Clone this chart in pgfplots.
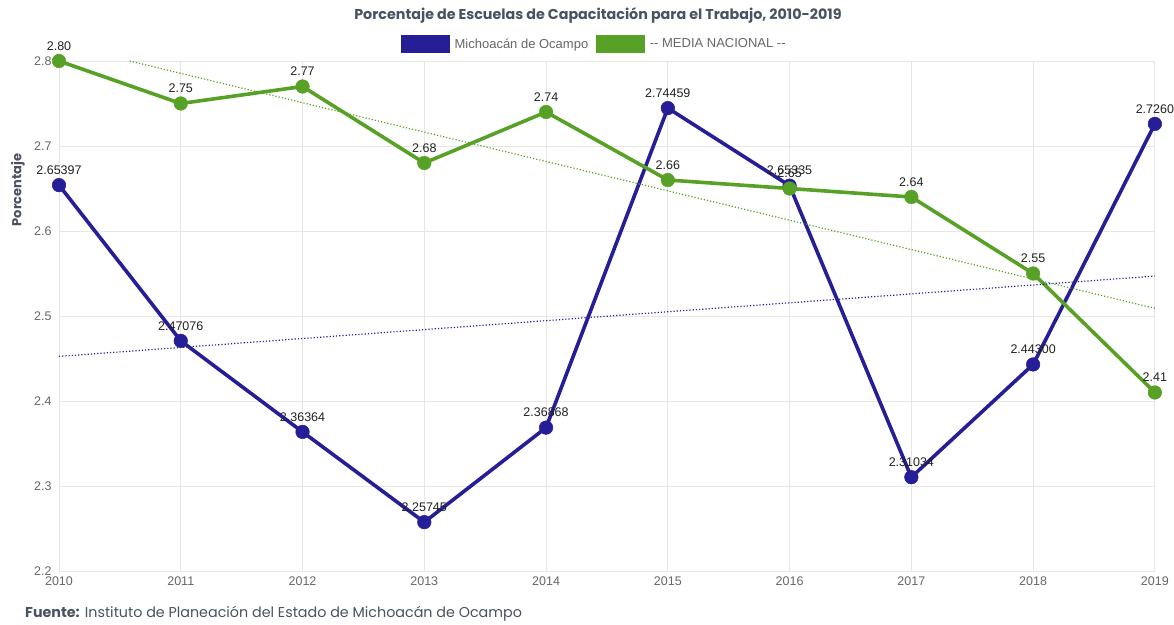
\documentclass[border=0pt]{standalone}
\usepackage{fontspec}
\setmainfont{Liberation Sans}
\newfontfamily\poppins{Poppins}
\usepackage{pgfplots}
\pgfplotsset{compat=1.18}
\usepackage{pgfplotstable}
\definecolor{cblue}{HTML}{261E96}
\definecolor{cgreen}{HTML}{57A127}
\definecolor{gridc}{HTML}{E6E6E6}
\definecolor{tickc}{HTML}{666666}
\definecolor{titlec}{HTML}{4A5160}
\definecolor{labc}{HTML}{222222}

\pgfplotstableread{
x y lab
2010 2.65397 2.65397
2011 2.47076 2.47076
2012 2.36364 2.36364
2013 2.25745 2.25745
2014 2.36868 2.36868
2015 2.74459 2.74459
2016 2.65335 2.65335
2017 2.31034 2.31034
2018 2.44300 2.44300
2019 2.7260 2.7260
}\mich

\pgfplotstableread{
x y lab
2010 2.80 2.80
2011 2.75 2.75
2012 2.77 2.77
2013 2.68 2.68
2014 2.74 2.74
2015 2.66 2.66
2016 2.65 2.65
2017 2.64 2.64
2018 2.55 2.55
2019 2.41 2.41
}\media

\begin{document}
\begin{tikzpicture}
\useasboundingbox (-59bp,-54bp) rectangle (1115bp,571bp);
\begin{axis}[
  at={(0,0)}, anchor=south west,
  scale only axis, width=1096bp, height=510bp,
  xmin=2010, xmax=2019, ymin=2.2, ymax=2.8,
  xtick={2010,2011,2012,2013,2014,2015,2016,2017,2018,2019},
  ytick={2.2,2.3,2.4,2.5,2.6,2.7,2.8},
  xticklabels={2010,2011,2012,2013,2014,2015,2016,2017,2018,2019},
  yticklabels={2.2,2.3,2.4,2.5,2.6,2.7,2.8},
  grid=major,
  major grid style={color=gridc, line width=0.8bp},
  axis line style={draw=none},
  tick style={draw=none},
  tick label style={font=\fontsize{12.5bp}{14bp}\selectfont, text=tickc},
  yticklabel style={xshift=-4bp},
  xticklabel style={yshift=-2bp},
  clip=false,
  legend columns=2,
  legend style={at={(axis description cs:0.4885,1.0333)}, anchor=center,
    draw=none, fill=none, font=\fontsize{13bp}{15bp}\selectfont, text=tickc,
    /tikz/every even column/.append style={column sep=6bp},
    /tikz/every odd column/.append style={column sep=3bp}},
  legend image code/.code={\fill[#1] (0bp,-7bp) rectangle (45bp,7bp);},
  nodes near coords,
  point meta=explicit symbolic,
  every node near coord/.append style={font=\fontsize{12.5bp}{14bp}\selectfont, text=labc, anchor=south, yshift=7bp},
]
\addplot[color=cblue, line width=3.6bp, mark=*, mark size=6.8bp, mark options={fill=cblue, draw=cblue, line width=0.5bp}]
  table[x=x, y=y, meta=lab] {\mich};
\addlegendentry{Michoacán de Ocampo}
\addplot[color=cgreen, line width=3.6bp, mark=*, mark size=6.8bp, mark options={fill=cgreen, draw=cgreen, line width=0.5bp}]
  table[x=x, y=y, meta=lab] {\media};
\addlegendentry{{-}{-} MEDIA NACIONAL {-}{-}}
\addplot[color=cblue, line width=1.2bp, dotted, nodes near coords=, forget plot] coordinates {(2010,2.4525) (2019,2.5470)};
\addplot[color=cgreen, line width=1.2bp, dotted, nodes near coords=, forget plot] coordinates {(2010.58,2.80) (2019,2.509)};
\node[font=\poppins\bfseries\fontsize{14.3bp}{16bp}\selectfont, text=titlec] at (axis description cs:0.4918,1.0902) {Porcentaje de Escuelas de Capacitación para el Trabajo, 2010-2019};
\node[font=\poppins\bfseries\fontsize{13bp}{15bp}\selectfont, text=titlec, rotate=90] at (axis description cs:-0.0374,0.747) {Porcentaje};
\node[font=\poppins\fontsize{14.3bp}{16bp}\selectfont, text=titlec, anchor=west, inner sep=0pt] at (axis description cs:-0.0310,-0.0843) {\textbf{Fuente:} Instituto de Planeación del Estado de Michoacán de Ocampo};
\end{axis}
\end{tikzpicture}
\end{document}
